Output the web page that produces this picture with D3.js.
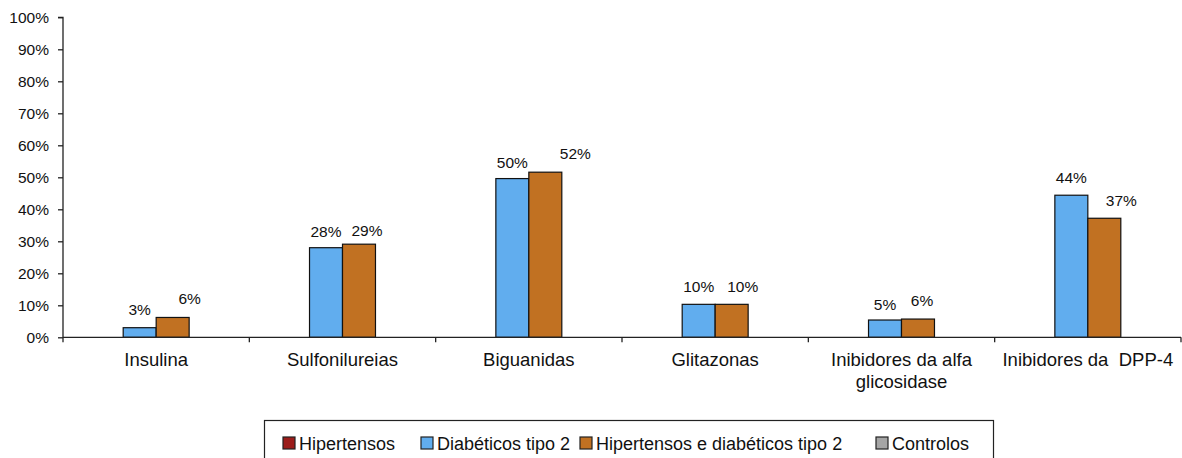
<!DOCTYPE html>
<html>
<head>
<meta charset="utf-8">
<script src="https://cdn.jsdelivr.net/npm/d3@7"></script>
<style>
  html, body { margin: 0; padding: 0; background: #fff; }
  svg { display: block; font-family: "Liberation Sans", Arial, Helvetica, sans-serif; }
</style>
</head>
<body>
<svg id="chart" width="1182" height="458"></svg>
<script>
// ---- data ----
const categories = [
  ["Insulina"],
  ["Sulfonilureias"],
  ["Biguanidas"],
  ["Glitazonas"],
  ["Inibidores da alfa", "glicosidase"],
  ["Inibidores da  DPP-4"]
];
const seriesNames = ["Hipertensos", "Diabéticos tipo 2", "Hipertensos e diabéticos tipo 2", "Controlos"];
const hipertensos = [null, null, null, null, null, null];
const diabeticos = [3.0, 28.0, 49.6, 10.3, 5.4, 44.4];
const hipDiab = [6.2, 29.1, 51.6, 10.3, 5.7, 37.2];
const controlos = [null, null, null, null, null, null];
const yTicks = [0, 10, 20, 30, 40, 50, 60, 70, 80, 90, 100];

// ---- layout / style (not data) ----
const colors = ["#9B1C1A", "#61ADEE", "#C17122", "#A5A5A5"];
const labelDx = [[0, 0, 0, 0, 0, 0], [0, 0, 0, 0, 0, 0], [17, 8, 30, 11, 4, 17], [0, 0, 0, 0, 0, 0]];
const labelDy = [[12, 12, 12, 12, 12, 12], [13, 11, 11, 12, 10, 12], [13, 8, 13, 12, 13, 12], [12, 12, 12, 12, 12, 12]];

const series = [hipertensos, diabeticos, hipDiab, controlos];
const svg = d3.select("#chart");
const plotLeft = 63, plotRight = 1181, plotTop = 17.3, plotBottom = 337.3;

const x = d3.scaleBand().domain(d3.range(categories.length)).range([plotLeft, plotRight]).paddingInner(0).paddingOuter(0);
const inner = x.bandwidth() * 4 / 5.65;
const x1 = d3.scaleBand().domain(d3.range(series.length)).range([0, inner]).padding(0);
const groupOffset = (x.bandwidth() - inner) / 2;
const y = d3.scaleLinear().domain([0, 100]).range([plotBottom, plotTop]);

// bars
series.forEach((vals, si) => {
  const g = svg.append("g");
  const pts = vals.map((v, i) => ({ v, i })).filter(d => d.v != null);
  g.selectAll("rect")
    .data(pts)
    .join("rect")
    .attr("x", d => x(d.i) + groupOffset + x1(si))
    .attr("y", d => y(d.v))
    .attr("width", x1.bandwidth())
    .attr("height", d => y(0) - y(d.v))
    .attr("fill", colors[si])
    .attr("stroke", "#111")
    .attr("stroke-width", 1.2);
  g.selectAll("text")
    .data(pts)
    .join("text")
    .attr("x", d => x(d.i) + groupOffset + x1(si) + x1.bandwidth() / 2 + labelDx[si][d.i])
    .attr("y", d => y(d.v) - labelDy[si][d.i])
    .attr("text-anchor", "middle")
    .attr("font-size", "15.5px")
    .attr("fill", "#111")
    .text(d => Math.round(d.v) + "%");
});

// y axis
const yAxis = d3.axisLeft(y).tickValues(yTicks).tickFormat(d => d + "%").tickSize(5).tickPadding(9);
const ya = svg.append("g").attr("transform", `translate(${plotLeft},0)`).call(yAxis);
ya.select(".domain").attr("stroke", "#222").attr("stroke-width", 1.3).attr("d", `M-5,${plotTop}H0V${plotBottom}`);
ya.selectAll(".tick line").attr("stroke", "#222").attr("stroke-width", 1.3);
ya.selectAll(".tick text").attr("font-size", "15.5px").attr("fill", "#111");
ya.attr("font-family", null).attr("font-size", null);

// x axis
const xa = svg.append("g");
xa.append("line").attr("x1", plotLeft).attr("x2", plotRight).attr("y1", plotBottom).attr("y2", plotBottom)
  .attr("stroke", "#222").attr("stroke-width", 1.3);
const boundaries = d3.range(categories.length + 1).map(i => i < categories.length ? x(i) : x(i - 1) + x.bandwidth());
xa.selectAll("line.tk").data(boundaries).join("line").attr("class", "tk")
  .attr("x1", d => d).attr("x2", d => d).attr("y1", plotBottom).attr("y2", plotBottom + 5)
  .attr("stroke", "#222").attr("stroke-width", 1.3);
const cl = xa.selectAll("text.cat").data(categories).join("text").attr("class", "cat")
  .attr("x", (d, i) => x(i) + x.bandwidth() / 2)
  .attr("y", 366)
  .attr("text-anchor", "middle")
  .attr("font-size", "18.5px")
  .attr("fill", "#111")
  .style("white-space", "pre");
cl.selectAll("tspan").data(d => d).join("tspan")
  .attr("x", function () { return this.parentNode.getAttribute("x"); })
  .attr("dy", (d, j) => j === 0 ? 0 : 22)
  .text(d => d);

// legend
const lg = svg.append("g");
lg.append("rect").attr("x", 264.5).attr("y", 420.5).attr("width", 729).attr("height", 60)
  .attr("fill", "#fff").attr("stroke", "#222").attr("stroke-width", 1.2);
const legendX = [283, 421, 580, 876];
seriesNames.forEach((name, i) => {
  lg.append("rect").attr("x", legendX[i]).attr("y", 437).attr("width", 12).attr("height", 12)
    .attr("fill", colors[i]).attr("stroke", "#222").attr("stroke-width", 1.2);
  lg.append("text").attr("x", legendX[i] + 16).attr("y", 450)
    .attr("font-size", "18px").attr("fill", "#111").text(name);
});
</script>
</body>
</html>
